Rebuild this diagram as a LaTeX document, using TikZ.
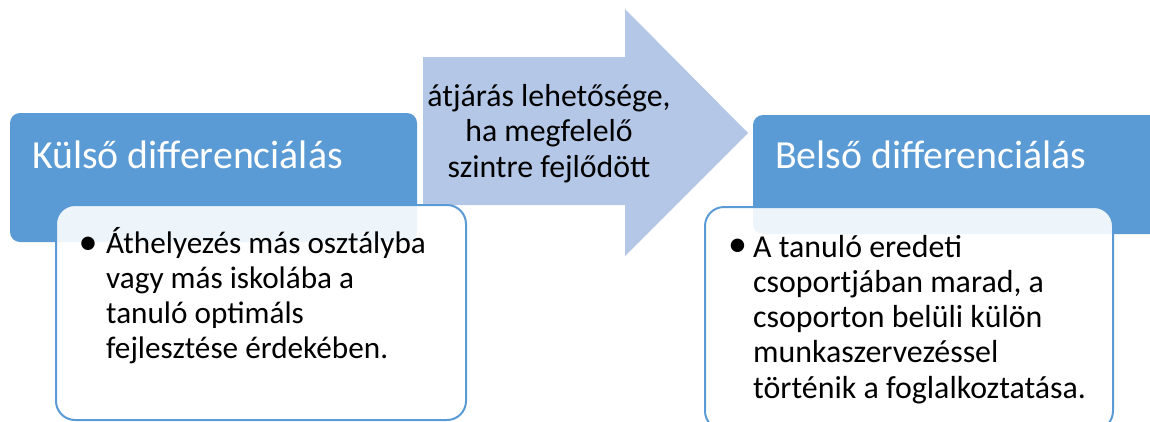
\documentclass[tikz,border=0pt]{standalone}
\usepackage{fontspec}
\setmainfont{Carlito}
\definecolor{headblue}{HTML}{5B9BD5}
\definecolor{arrowblue}{HTML}{B4C7E7}
\begin{document}
\begin{tikzpicture}[x=1pt,y=-1pt,
  headbox/.style={fill=headblue,draw=none,rounded corners=10pt},
  bodybox/.style={fill=white,fill opacity=0.9,draw=headblue,line width=2pt,rounded corners=19pt},
  headtext/.style={text=white,inner sep=0pt,anchor=base west,font=\fontsize{39.8}{48}\selectfont},
  bodytext/.style={inner sep=0pt,anchor=base west,align=left},
  bullet/.style={inner sep=0pt,anchor=center,font=\fontsize{38}{38}\selectfont},
  arrowtext/.style={inner sep=0pt,anchor=base,align=center,font=\fontsize{31.8}{35.5}\selectfont}]
\useasboundingbox (0,0) rectangle (1150,421);
\begin{scope}
\clip (0,0) rectangle (1150,421);
% transition arrow
\fill[arrowblue] (423,57) -- (625,57) -- (625,9) -- (748,133) -- (625,256) -- (625,205) -- (423,205) -- cycle;
% headers
\path[headbox] (10,113) rectangle (417,242);
\path[headbox] (753,115) rectangle (1180,234);
\node[headtext] (lhead) at (32,168) {Külső differenciálás};
\node[headtext] (rhead) at (775,168) {Belső differenciálás};
% content boxes
\path[bodybox] (56,205) rectangle (466,420);
\path[bodybox] (705,207) rectangle (1113,430);
\end{scope}
% arrow label (anchored on the baseline of its last line)
\node[arrowtext] (label) at (549,177) {átjárás lehetősége,\\ha megfelelő\\szintre fejlődött};
% left content
\node[bullet] (lb) at (88,246) {•};
\node[bodytext,font=\fontsize{31.2}{34.67}\selectfont] (ltext) at (106,358)
  {Áthelyezés más osztályba\\vagy más iskolába a\\tanuló optimáls\\fejlesztése érdekében.};
% right content
\node[bullet] (rb) at (737.5,248) {•};
\node[bodytext,font=\fontsize{31.9}{35.25}\selectfont] (rtext) at (753,398)
  {A tanuló eredeti\\csoportjában marad, a\\csoporton belüli külön\\munkaszervezéssel\\történik a foglalkoztatása.};
\end{tikzpicture}
\end{document}
